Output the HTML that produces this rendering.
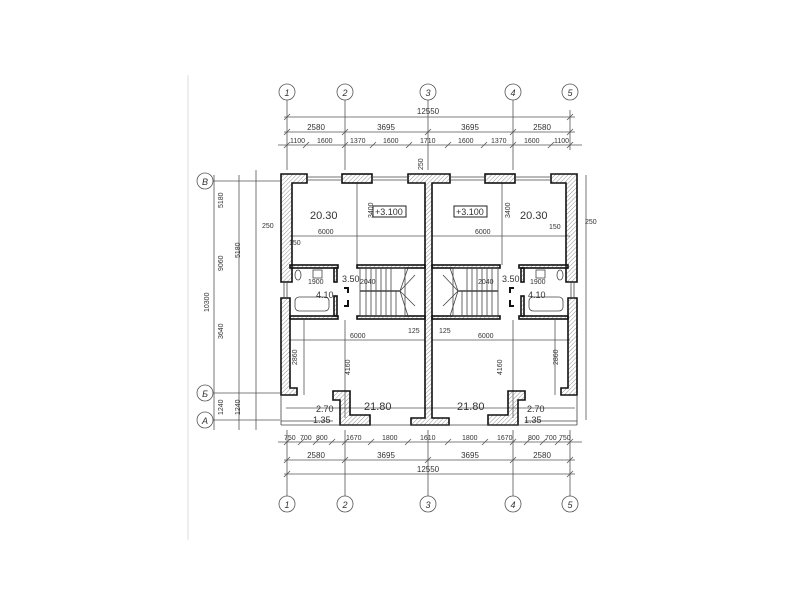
<!DOCTYPE html>
<html><head><meta charset="utf-8"><style>
html,body{margin:0;padding:0;background:#fff;}
svg{display:block;}
text{font-family:"Liberation Sans",sans-serif;fill:#333;}
</style></head><body>
<svg width="800" height="600" viewBox="0 0 800 600" xmlns="http://www.w3.org/2000/svg">
<defs>
<pattern id="h" width="3" height="3" patternUnits="userSpaceOnUse" patternTransform="rotate(45)"><line x1="0" y1="0" x2="0" y2="3" stroke="#777" stroke-width="0.8"/></pattern>
</defs>
<rect width="800" height="600" fill="#fff"/>
<line x1="188" y1="75" x2="188" y2="540" stroke="#ddd"/>
<g stroke="#555" stroke-width="0.8" fill="none">
<!-- axis lines -->
<line x1="287" y1="100" x2="287" y2="170"/><line x1="345" y1="100" x2="345" y2="170"/><line x1="428" y1="100" x2="428" y2="170"/><line x1="513" y1="100" x2="513" y2="170"/><line x1="570" y1="110" x2="570" y2="150"/>
<line x1="287" y1="430" x2="287" y2="496"/><line x1="345" y1="430" x2="345" y2="496"/><line x1="428" y1="430" x2="428" y2="496"/><line x1="513" y1="430" x2="513" y2="496"/><line x1="570" y1="430" x2="570" y2="496"/>
<circle cx="287" cy="92" r="8"/><circle cx="345" cy="92" r="8"/><circle cx="428" cy="92" r="8"/><circle cx="513" cy="92" r="8"/><circle cx="570" cy="92" r="8"/>
<circle cx="287" cy="504" r="8"/><circle cx="345" cy="504" r="8"/><circle cx="428" cy="504" r="8"/><circle cx="513" cy="504" r="8"/><circle cx="570" cy="504" r="8"/>
<circle cx="205" cy="181" r="8"/><circle cx="205" cy="393" r="8"/><circle cx="205" cy="420" r="8"/>
<line x1="213" y1="181" x2="280" y2="181"/><line x1="213" y1="393" x2="280" y2="393"/><line x1="213" y1="420" x2="280" y2="420"/>
<!-- top dims -->
<line x1="284" y1="117" x2="575" y2="117"/><line x1="284" y1="132" x2="575" y2="132"/><line x1="278" y1="145" x2="582" y2="145"/>
<!-- bottom dims -->
<line x1="278" y1="442" x2="582" y2="442"/><line x1="284" y1="460" x2="575" y2="460"/><line x1="284" y1="474" x2="575" y2="474"/>
<!-- left dims -->
<line x1="214" y1="175" x2="214" y2="430"/><line x1="239" y1="175" x2="239" y2="430"/><line x1="256" y1="170" x2="256" y2="430"/>
<line x1="586" y1="175" x2="586" y2="420"/>
<!-- inner dim lines -->
<line x1="290" y1="236" x2="425" y2="236"/><line x1="432" y1="236" x2="570" y2="236"/>
<line x1="290" y1="340" x2="425" y2="340"/><line x1="432" y1="340" x2="570" y2="340"/>
<line x1="357" y1="183" x2="357" y2="265"/><line x1="502" y1="183" x2="502" y2="265"/>
<line x1="345" y1="320" x2="345" y2="418"/><line x1="513" y1="320" x2="513" y2="418"/>
<line x1="304" y1="320" x2="304" y2="395"/><line x1="555" y1="320" x2="555" y2="395"/>
<line x1="286" y1="408" x2="575" y2="408"/>
</g>
<g stroke="#555" stroke-width="0.8">
<line x1="284" y1="120" x2="290" y2="114"/><line x1="567" y1="120" x2="573" y2="114"/>
<line x1="284" y1="135" x2="290" y2="129"/><line x1="342" y1="135" x2="348" y2="129"/><line x1="425" y1="135" x2="431" y2="129"/><line x1="510" y1="135" x2="516" y2="129"/><line x1="567" y1="135" x2="573" y2="129"/>
<line x1="284" y1="148" x2="290" y2="142"/><line x1="303" y1="148" x2="309" y2="142"/><line x1="342" y1="148" x2="348" y2="142"/><line x1="370" y1="148" x2="376" y2="142"/><line x1="406" y1="148" x2="412" y2="142"/><line x1="445" y1="148" x2="451" y2="142"/><line x1="481" y1="148" x2="487" y2="142"/><line x1="510" y1="148" x2="516" y2="142"/><line x1="548" y1="148" x2="554" y2="142"/><line x1="567" y1="148" x2="573" y2="142"/>
<line x1="284" y1="445" x2="290" y2="439"/><line x1="298" y1="445" x2="304" y2="439"/><line x1="313" y1="445" x2="319" y2="439"/><line x1="329" y1="445" x2="335" y2="439"/><line x1="342" y1="445" x2="348" y2="439"/><line x1="368" y1="445" x2="374" y2="439"/><line x1="405" y1="445" x2="411" y2="439"/><line x1="445" y1="445" x2="451" y2="439"/><line x1="482" y1="445" x2="488" y2="439"/><line x1="510" y1="445" x2="516" y2="439"/><line x1="524" y1="445" x2="530" y2="439"/><line x1="540" y1="445" x2="546" y2="439"/><line x1="555" y1="445" x2="561" y2="439"/><line x1="567" y1="445" x2="573" y2="439"/>
<line x1="284" y1="463" x2="290" y2="457"/><line x1="342" y1="463" x2="348" y2="457"/><line x1="425" y1="463" x2="431" y2="457"/><line x1="510" y1="463" x2="516" y2="457"/><line x1="567" y1="463" x2="573" y2="457"/>
<line x1="284" y1="477" x2="290" y2="471"/><line x1="567" y1="477" x2="573" y2="471"/>
</g>
<!-- walls -->
<g stroke="#111" stroke-width="1.6" fill="url(#h)">
<path d="M281 174 H307 V183 H292 V282 H281 Z"/>
<rect x="342" y="174" width="30" height="9"/>
<path d="M408 174 H450 V183 H432 V418 H449 V425 H411 V418 H425 V183 H408 Z"/>
<rect x="485" y="174" width="30" height="9"/>
<path d="M577 174 H551 V183 H566 V282 H577 Z"/>
<path d="M281 298 H290 V388 H297 V395 H281 Z"/>
<path d="M577 298 H568 V388 H561 V395 H577 Z"/>
<path d="M333 391 H350 V415 H370 V425 H340 V400 H333 Z"/>
<path d="M525 391 H508 V415 H488 V425 H518 V400 H525 Z"/>
<rect x="290" y="265" width="48" height="3"/><rect x="357" y="265" width="68" height="3"/>
<rect x="290" y="316" width="48" height="3"/><rect x="357" y="316" width="68" height="3"/>
<rect x="432" y="265" width="68" height="3"/><rect x="519" y="265" width="49" height="3"/>
<rect x="432" y="316" width="68" height="3"/><rect x="519" y="316" width="49" height="3"/>
<rect x="334" y="268" width="3" height="14"/><rect x="334" y="296" width="3" height="20"/>
<rect x="521" y="268" width="3" height="14"/><rect x="521" y="296" width="3" height="20"/>
</g>
<g stroke="#444" stroke-width="0.8" fill="none">
<!-- windows -->
<line x1="307" y1="177" x2="342" y2="177"/><line x1="307" y1="180" x2="342" y2="180"/>
<line x1="372" y1="177" x2="408" y2="177"/><line x1="372" y1="180" x2="408" y2="180"/>
<line x1="450" y1="177" x2="485" y2="177"/><line x1="450" y1="180" x2="485" y2="180"/>
<line x1="515" y1="177" x2="551" y2="177"/><line x1="515" y1="180" x2="551" y2="180"/>
<line x1="284" y1="282" x2="284" y2="298"/><line x1="287" y1="282" x2="287" y2="298"/>
<line x1="571" y1="282" x2="571" y2="298"/><line x1="574" y1="282" x2="574" y2="298"/>
<line x1="281" y1="425" x2="577" y2="425"/><line x1="281" y1="421" x2="333" y2="421"/><line x1="525" y1="421" x2="577" y2="421"/>
<line x1="281" y1="395" x2="281" y2="425"/><line x1="577" y1="395" x2="577" y2="425"/>
<!-- stairs -->
<rect x="360" y="268" width="45" height="48"/><line x1="360" y1="291" x2="400" y2="291" stroke-width="1.5"/>
<path d="M366 268V291M371 268V291M376 268V291M381 268V291M386 268V291M391 268V291M366 291V316M371 291V316M376 291V316M381 291V316M386 291V316M391 291V316M396 291V316M400 291L415 275M400 291L415 306M400 291L408 268M400 291L408 316"/>
<rect x="453" y="268" width="45" height="48"/><line x1="458" y1="291" x2="498" y2="291" stroke-width="1.5"/>
<path d="M492 268V291M487 268V291M482 268V291M477 268V291M472 268V291M467 268V291M492 291V316M487 291V316M482 291V316M477 291V316M472 291V316M467 291V316M462 291V316M458 291L443 275M458 291L443 306M458 291L450 268M458 291L450 316"/>
<!-- fixtures -->
<rect x="295" y="297" width="34" height="14" rx="4"/><rect x="529" y="297" width="34" height="14" rx="4"/>
<rect x="313" y="270" width="9" height="8"/><rect x="536" y="270" width="9" height="8"/>
<ellipse cx="298" cy="275" rx="3" ry="5"/><ellipse cx="560" cy="275" rx="3" ry="5"/>
</g>
<g stroke="#111" stroke-width="2" fill="none">
<path d="M344 288 H348 V293"/><path d="M344 306 H348 V300"/>
<path d="M514 288 H510 V293"/><path d="M514 306 H510 V300"/>
</g>
<!-- labels -->
<g font-size="8">
<text x="428" y="114" text-anchor="middle">12550</text>
<text x="316" y="130" text-anchor="middle">2580</text><text x="386" y="130" text-anchor="middle">3695</text><text x="470" y="130" text-anchor="middle">3695</text><text x="542" y="130" text-anchor="middle">2580</text>
<text x="428" y="472" text-anchor="middle">12550</text>
<text x="316" y="458" text-anchor="middle">2580</text><text x="386" y="458" text-anchor="middle">3695</text><text x="470" y="458" text-anchor="middle">3695</text><text x="542" y="458" text-anchor="middle">2580</text>
</g>
<g font-size="7">
<text x="290" y="143">1100</text><text x="317" y="143">1600</text><text x="350" y="143">1370</text><text x="383" y="143">1600</text><text x="420" y="143">1710</text><text x="458" y="143">1600</text><text x="491" y="143">1370</text><text x="524" y="143">1600</text><text x="554" y="143">1100</text>
<text x="284" y="440">750</text><text x="300" y="440">700</text><text x="316" y="440">800</text><text x="346" y="440">1670</text><text x="382" y="440">1800</text><text x="420" y="440">1610</text><text x="462" y="440">1800</text><text x="497" y="440">1670</text><text x="528" y="440">800</text><text x="545" y="440">700</text><text x="559" y="440">750</text>
<text x="318" y="234">6000</text><text x="475" y="234">6000</text>
<text x="350" y="338">6000</text><text x="478" y="338">6000</text>
<text x="308" y="284">1900</text><text x="360" y="284">2040</text><text x="478" y="284">2040</text><text x="530" y="284">1900</text>
<text x="408" y="333">125</text><text x="439" y="333">125</text>
<text x="262" y="228">250</text><text x="585" y="224">250</text><text x="289" y="245">150</text><text x="549" y="229">150</text>
<text transform="translate(223,208) rotate(-90)">5180</text>
<text transform="translate(223,339) rotate(-90)">3640</text>
<text transform="translate(223,271) rotate(-90)">9060</text>
<text transform="translate(209,312) rotate(-90)">10300</text>
<text transform="translate(223,415) rotate(-90)">1240</text>
<text transform="translate(240,415) rotate(-90)">1240</text>
<text transform="translate(373,218) rotate(-90)">3400</text>
<text transform="translate(510,218) rotate(-90)">3400</text>
<text transform="translate(350,375) rotate(-90)">4160</text>
<text transform="translate(502,375) rotate(-90)">4160</text>
<text transform="translate(297,365) rotate(-90)">2860</text>
<text transform="translate(558,365) rotate(-90)">2860</text>
<text transform="translate(240,258) rotate(-90)">5180</text>
<text transform="translate(423,170) rotate(-90)">250</text>
</g>
<g font-size="11">
<text x="310" y="219">20.30</text><text x="520" y="219">20.30</text>
<text x="364" y="410">21.80</text><text x="457" y="410">21.80</text>
<text x="316" y="412" font-size="9">2.70</text><text x="313" y="423" font-size="9">1.35</text>
<text x="527" y="412" font-size="9">2.70</text><text x="524" y="423" font-size="9">1.35</text>
<text x="342" y="282" font-size="9">3.50</text><text x="502" y="282" font-size="9">3.50</text>
<text x="316" y="298" font-size="9">4.10</text><text x="528" y="298" font-size="9">4.10</text>
</g>
<rect x="373" y="206" width="33" height="11" fill="none" stroke="#222"/><text x="375" y="215" font-size="9">+3.100</text>
<rect x="454" y="206" width="33" height="11" fill="none" stroke="#222"/><text x="456" y="215" font-size="9">+3.100</text>
<g font-size="9" font-style="italic" text-anchor="middle">
<text x="287" y="96">1</text><text x="345" y="96">2</text><text x="428" y="96">3</text><text x="513" y="96">4</text><text x="570" y="96">5</text>
<text x="287" y="508">1</text><text x="345" y="508">2</text><text x="428" y="508">3</text><text x="513" y="508">4</text><text x="570" y="508">5</text>
<text x="205" y="185">В</text><text x="205" y="397">Б</text><text x="205" y="424">А</text>
</g>
</svg>
</body></html>
